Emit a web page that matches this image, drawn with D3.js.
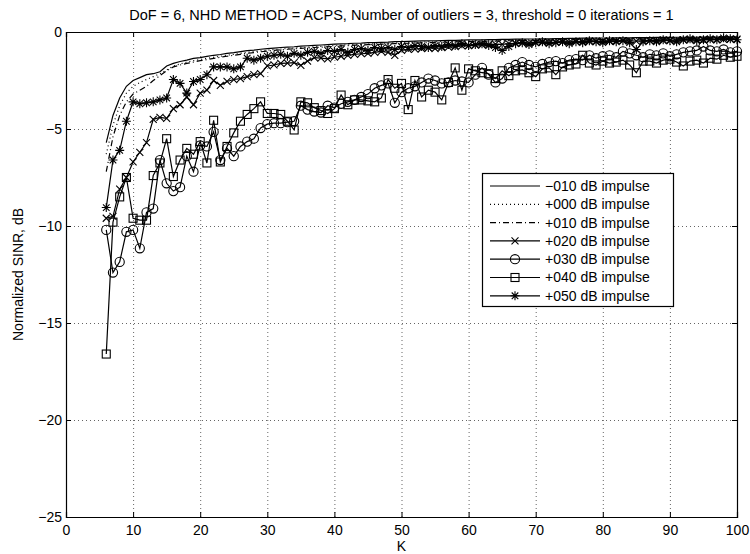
<!DOCTYPE html>
<html>
<head>
<meta charset="utf-8">
<script src="https://cdn.jsdelivr.net/npm/d3@7"></script>
<style>
  body { margin: 0; background: #fff; }
  text { font-family: "Liberation Sans", Arial, Helvetica, sans-serif; }
</style>
</head>
<body>
<svg id="chart" width="750" height="554"></svg>
<script>
// K runs 6..100
const kValues = d3.range(6, 101);

const seriesNames = ["\u2212010 dB impulse", "+000 dB impulse", "+010 dB impulse", "+020 dB impulse",
  "+030 dB impulse", "+040 dB impulse", "+050 dB impulse"];

const sinrM10 = [
  -5.7, -4.3, -3.4, -2.8, -2.5, -2.35, -2.2, -2.15, -2.05, -1.75,
  -1.62, -1.52, -1.45, -1.36, -1.32, -1.26, -1.2, -1.16, -1.1, -1.06,
  -1.01, -0.96, -0.93, -0.89, -0.86, -0.83, -0.8, -0.78, -0.76, -0.73,
  -0.71, -0.69, -0.67, -0.65, -0.63, -0.61, -0.6, -0.58, -0.57, -0.55,
  -0.54, -0.53, -0.52, -0.5, -0.49, -0.48, -0.47, -0.46, -0.46, -0.45,
  -0.44, -0.43, -0.43, -0.42, -0.41, -0.41, -0.4, -0.39, -0.39, -0.38,
  -0.38, -0.37, -0.37, -0.36, -0.36, -0.35, -0.35, -0.34, -0.34, -0.33,
  -0.33, -0.32, -0.32, -0.32, -0.31, -0.31, -0.3, -0.3, -0.3, -0.29,
  -0.29, -0.29, -0.28, -0.28, -0.28, -0.27, -0.27, -0.27, -0.27, -0.26,
  -0.26, -0.26, -0.25, -0.25, -0.25];

const sinr000 = [
  -6.3, -4.8, -3.8, -3.15, -2.8, -2.6, -2.45, -2.3, -2.15, -1.95,
  -1.75, -1.65, -1.55, -1.48, -1.42, -1.36, -1.3, -1.25, -1.2, -1.15,
  -1.1, -1.05, -1.01, -0.97, -0.94, -0.9, -0.88, -0.85, -0.82, -0.8,
  -0.78, -0.76, -0.74, -0.72, -0.7, -0.68, -0.66, -0.65, -0.63, -0.62,
  -0.6, -0.59, -0.58, -0.56, -0.55, -0.54, -0.53, -0.52, -0.51, -0.5,
  -0.49, -0.48, -0.48, -0.47, -0.46, -0.45, -0.45, -0.44, -0.43, -0.43,
  -0.42, -0.42, -0.41, -0.41, -0.4, -0.4, -0.39, -0.39, -0.38, -0.38,
  -0.37, -0.37, -0.36, -0.36, -0.36, -0.35, -0.35, -0.35, -0.34, -0.34,
  -0.34, -0.33, -0.33, -0.33, -0.32, -0.32, -0.32, -0.31, -0.31, -0.31,
  -0.3, -0.3, -0.3, -0.3, -0.29];

const sinr010 = [
  -7.2, -5.4, -4.3, -3.6, -3.2, -3.0, -2.8, -2.5, -2.25, -2.0,
  -1.8, -1.7, -1.62, -1.55, -1.48, -1.42, -1.36, -1.3, -1.25, -1.2,
  -1.15, -1.1, -1.06, -1.02, -0.98, -0.95, -0.92, -0.89, -0.86, -0.84,
  -0.82, -0.8, -0.78, -0.76, -0.74, -0.72, -0.7, -0.68, -0.67, -0.65,
  -0.64, -0.63, -0.61, -0.6, -0.59, -0.58, -0.57, -0.56, -0.55, -0.54,
  -0.53, -0.52, -0.51, -0.5, -0.5, -0.49, -0.48, -0.47, -0.47, -0.46,
  -0.45, -0.45, -0.44, -0.44, -0.43, -0.43, -0.42, -0.42, -0.41, -0.41,
  -0.4, -0.4, -0.39, -0.39, -0.39, -0.38, -0.38, -0.37, -0.37, -0.37,
  -0.36, -0.36, -0.36, -0.35, -0.35, -0.35, -0.34, -0.34, -0.34, -0.33,
  -0.33, -0.33, -0.32, -0.32, -0.32];

const sinr020 = [
  -9.6, -9.5, -8.1, -7.5, -6.7, -6.2, -5.7, -4.5, -4.4, -4.45,
  -3.95, -3.75, -3.35, -3.75, -3.15, -3.0, -2.5, -2.75, -2.55, -2.45,
  -2.4, -2.3, -2.2, -2.15, -1.75, -1.7, -1.62, -1.6, -1.58, -1.72,
  -1.5, -1.32, -1.35, -1.38, -1.3, -1.25, -1.2, -1.15, -1.12, -1.1,
  -1.05, -1.0, -1.05, -1.2, -0.95, -0.9, -0.88, -0.85, -0.82, -0.85,
  -0.8, -0.78, -0.75, -0.72, -0.7, -0.68, -0.66, -0.65, -0.63, -0.64,
  -0.6, -0.58, -0.57, -0.58, -0.55, -0.54, -0.55, -0.52, -0.51, -0.52,
  -0.5, -0.49, -0.5, -0.48, -0.47, -0.48, -0.46, -0.45, -0.46, -0.47,
  -0.44, -0.44, -0.43, -0.44, -0.42, -0.42, -0.41, -0.42, -0.4, -0.4,
  -0.39, -0.4, -0.38, -0.38, -0.37];

const sinr030 = [
  -10.2, -12.4, -11.85, -10.3, -10.2, -11.15, -9.3, -9.1, -6.6, -7.8,
  -8.2, -8.0, -6.4, -7.2, -5.85, -5.9, -5.15, -6.6, -6.0, -6.4,
  -5.9, -5.65, -5.5, -4.95, -4.75, -4.7, -4.7, -4.65, -4.6, -3.8,
  -4.0, -4.1, -4.15, -3.8, -3.9, -3.7, -3.6, -3.5, -3.35, -3.2,
  -2.9, -2.75, -2.65, -3.65, -3.1, -2.9, -2.8, -2.6, -2.4, -2.5,
  -2.65, -2.6, -2.5, -2.55, -2.6, -2.2, -1.85, -2.2, -2.6, -2.4,
  -1.85, -1.7, -1.55, -1.7, -1.8, -1.65, -1.55, -1.5, -1.6, -1.45,
  -1.4, -1.45, -1.2, -1.35, -1.25, -1.2, -1.3, -1.0, -1.1, -1.2,
  -1.3, -1.15, -1.2, -1.1, -1.25, -1.15, -1.05, -1.0, -0.95, -0.75,
  -0.95, -1.0, -0.9, -1.05, -1.0];

const sinr040 = [
  -16.6, -9.8, -8.5, -7.5, -9.6, -9.7, -9.7, -7.4, -6.75, -5.5,
  -7.45, -6.6, -6.0, -6.3, -5.65, -6.75, -4.55, -6.7, -5.9, -5.2,
  -4.6, -4.25, -3.95, -3.6, -4.2, -4.2, -4.25, -4.6, -5.05, -3.6,
  -3.65, -3.9, -4.05, -4.2, -3.95, -3.25, -3.75, -3.5, -3.5, -3.55,
  -3.6, -3.4, -2.45, -2.9, -2.65, -4.0, -2.5, -3.35, -3.0, -3.1,
  -3.5, -2.6, -1.85, -3.0, -1.9, -2.0, -2.1, -2.15, -2.4, -2.0,
  -2.25, -2.0, -1.95, -2.1, -2.3, -1.9, -1.85, -2.2, -1.8, -1.7,
  -1.65, -1.2, -1.6, -1.7, -1.5, -1.6, -1.55, -1.45, -1.7, -2.1,
  -1.5, -1.5, -1.6, -1.45, -1.4, -1.55, -1.75, -1.5, -1.45, -1.6,
  -1.35, -1.4, -1.2, -1.3, -1.25];

const sinr050 = [
  -9.05, -6.6, -6.1, -4.6, -3.6, -3.7, -3.65, -3.6, -3.5, -3.4,
  -2.45, -2.65, -3.15, -2.55, -2.45, -2.2, -1.8, -1.8, -1.8, -1.9,
  -1.8, -1.35, -1.45, -1.35, -1.25, -1.2, -1.15, -1.25, -1.1, -1.2,
  -1.05, -1.0, -1.1, -0.95, -1.0, -0.9, -1.05, -0.9, -0.85, -0.95,
  -0.8, -0.85, -0.8, -0.9, -0.75, -0.8, -0.7, -0.75, -0.8, -0.7,
  -0.75, -0.65, -0.7, -0.6, -0.7, -0.65, -0.6, -0.7, -0.8, -0.95,
  -0.75, -0.6, -0.55, -0.65, -0.55, -0.5, -0.6, -0.55, -0.5, -0.6,
  -0.5, -0.55, -0.45, -0.5, -0.55, -0.45, -0.5, -0.45, -0.55, -0.9,
  -0.5, -0.45, -0.5, -0.4, -0.45, -0.5, -0.4, -0.35, -0.45, -0.4,
  -0.35, -0.4, -0.3, -0.35, -0.4];

const xTicks = d3.range(0, 101, 10);
const yTicks = [-25, -20, -15, -10, -5, 0];

const allSeries = [sinrM10, sinr000, sinr010, sinr020, sinr030, sinr040, sinr050];
const dashes = [null, "1,3", "6,3,1,3", null, null, null, null];
const markers = [null, null, null, "x", "o", "s", "*"];

const margin = { left: 66, right: 13, top: 32, bottom: 37 };
const width = 750, height = 554;
const fontSize = "14px";

const svg = d3.select("#chart");

const x = d3.scaleLinear().domain([0, 100]).range([margin.left, width - margin.right]);
const y = d3.scaleLinear().domain([-25, 0]).range([height - margin.bottom, margin.top]);

const fmt = d => d3.format("")(d);

// dotted grid
const grid = svg.append("g").attr("stroke", "#000").attr("stroke-width", 1)
  .attr("stroke-dasharray", "1,3").attr("opacity", 0.6);
grid.selectAll("line.gx").data(xTicks.slice(1, -1)).enter().append("line")
  .attr("x1", d => x(d) + 0.5).attr("x2", d => x(d) + 0.5)
  .attr("y1", y(0)).attr("y2", y(-25));
grid.selectAll("line.gy").data(yTicks.slice(1, -1)).enter().append("line")
  .attr("y1", d => Math.round(y(d)) + 0.5).attr("y2", d => Math.round(y(d)) + 0.5)
  .attr("x1", x(0)).attr("x2", x(100));

// axes, ticks pointing inward like matlab
const axB = svg.append("g").attr("transform", `translate(0,${y(-25)})`)
  .call(d3.axisBottom(x).tickValues(xTicks).tickSize(-5).tickPadding(8).tickFormat(fmt));
const axL = svg.append("g").attr("transform", `translate(${x(0)},0)`)
  .call(d3.axisLeft(y).tickValues(yTicks).tickSize(-5).tickPadding(4).tickFormat(fmt));
const axT = svg.append("g").attr("transform", `translate(0,${y(0)})`)
  .call(d3.axisTop(x).tickValues(xTicks).tickSize(-5).tickFormat(""));
const axR = svg.append("g").attr("transform", `translate(${x(100)},0)`)
  .call(d3.axisRight(y).tickValues(yTicks).tickSize(-5).tickFormat(""));

[axB, axL, axT, axR].forEach(a => {
  a.select(".domain").attr("stroke", "#000").attr("stroke-width", 1.2);
  a.selectAll(".tick line").attr("stroke", "#000");
  a.selectAll("text").attr("fill", "#000").style("font-size", fontSize)
    .style("font-family", '"Liberation Sans", Arial, sans-serif');
});

// marker drawing
function drawMarker(g, type, cx, cy) {
  if (type === "x") {
    g.append("path").attr("d", `M${cx-3.5},${cy-3.5}L${cx+3.5},${cy+3.5}M${cx-3.5},${cy+3.5}L${cx+3.5},${cy-3.5}`)
      .attr("stroke", "#000").attr("stroke-width", 1.1).attr("fill", "none");
  } else if (type === "o") {
    g.append("circle").attr("cx", cx).attr("cy", cy).attr("r", 4.6)
      .attr("stroke", "#000").attr("stroke-width", 1.1).attr("fill", "none");
  } else if (type === "s") {
    g.append("rect").attr("x", cx - 4).attr("y", cy - 4).attr("width", 8).attr("height", 8)
      .attr("stroke", "#000").attr("stroke-width", 1.1).attr("fill", "none");
  } else if (type === "*") {
    g.append("path")
      .attr("d", `M${cx},${cy-4.5}L${cx},${cy+4.5}M${cx-4.5},${cy}L${cx+4.5},${cy}M${cx-3.3},${cy-3.3}L${cx+3.3},${cy+3.3}M${cx-3.3},${cy+3.3}L${cx+3.3},${cy-3.3}`)
      .attr("stroke", "#000").attr("stroke-width", 1.1).attr("fill", "none");
  }
}

const line = d3.line().x((d, i) => x(kValues[i])).y(d => y(d));

allSeries.forEach((vals, si) => {
  const g = svg.append("g");
  g.append("path").datum(vals).attr("d", line)
    .attr("fill", "none").attr("stroke", "#000").attr("stroke-width", 1.2)
    .attr("stroke-dasharray", dashes[si]);
  if (markers[si]) {
    vals.forEach((v, i) => drawMarker(g, markers[si], x(kValues[i]), y(v)));
  }
});

// legend
const lg = svg.append("g").attr("transform", "translate(482,173)");
const rowH = 18.3;
lg.append("rect").attr("x", 0.5).attr("y", 0.5).attr("width", 191).attr("height", 133)
  .attr("fill", "#fff").attr("stroke", "#000").attr("stroke-width", 1.2);
seriesNames.forEach((name, i) => {
  const cy = 13 + i * rowH;
  const r = lg.append("g");
  r.append("line").attr("x1", 8).attr("x2", 58).attr("y1", cy).attr("y2", cy)
    .attr("stroke", "#000").attr("stroke-width", 1.2).attr("stroke-dasharray", dashes[i]);
  if (markers[i]) drawMarker(r, markers[i], 33, cy);
  r.append("text").attr("x", 63).attr("y", cy).attr("dy", "0.35em")
    .style("font-size", fontSize).text(name);
});

// title and axis labels
svg.append("text").attr("x", (x(0) + x(100)) / 2).attr("y", 20).attr("text-anchor", "middle")
  .style("font-size", "14.5px").text("DoF = 6, NHD METHOD = ACPS, Number of outliers = 3, threshold = 0 iterations = 1");
svg.append("text").attr("x", (x(0) + x(100)) / 2).attr("y", 551).attr("text-anchor", "middle")
  .style("font-size", fontSize).text("K");
svg.append("text").attr("transform", `translate(23,${(y(0) + y(-25)) / 2}) rotate(-90)`)
  .attr("text-anchor", "middle").style("font-size", fontSize).text("Normalized SINR, dB");
</script>
</body>
</html>
